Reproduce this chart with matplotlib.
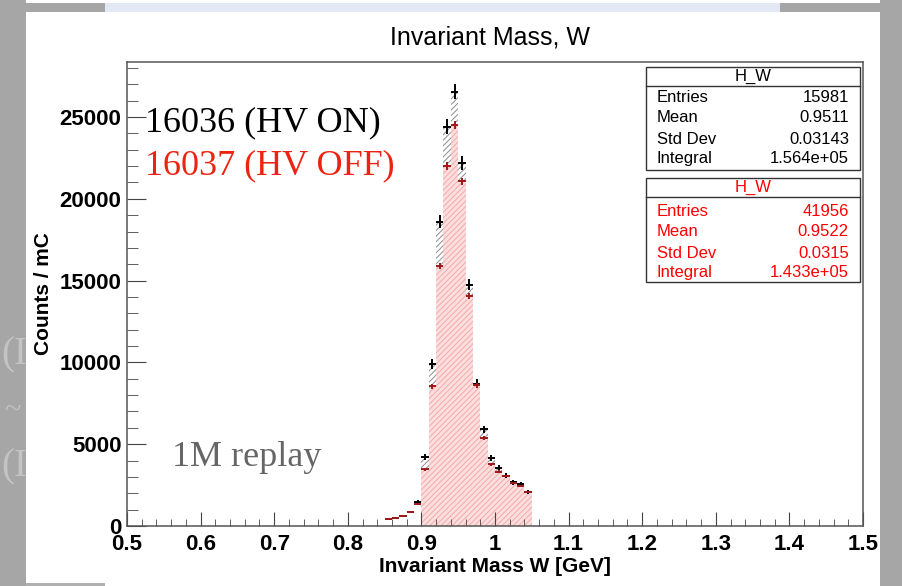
import numpy as np
import matplotlib
matplotlib.use('Agg')
import matplotlib.pyplot as plt
from matplotlib.patches import Rectangle
from matplotlib.ticker import MultipleLocator

plt.rcParams['font.family'] = ['Liberation Sans', 'DejaVu Sans']
plt.rcParams['hatch.linewidth'] = 0.7

# бины по 0.01 ГэВ от 0.85 до 1.05
bin_lo = 0.85
bin_w = 0.01
n_bins = 20
fill_from = 5  # заливка гистограмм только с 0.90

# 16036 (HV ON)
on_counts = [430, 470, 630, 850, 1480, 4200, 9900, 18600, 24400, 26550,
             22200, 14760, 8700, 5920, 4150, 3540, 3070, 2680, 2560, 2100]
on_err = [60, 60, 70, 80, 110, 180, 280, 390, 450, 470,
          420, 340, 260, 215, 180, 165, 155, 145, 140, 130]
# 16037 (HV OFF)
off_counts = [430, 470, 630, 850, 1340, 3480, 8540, 15900, 22000, 24500,
              21060, 14050, 8600, 5370, 3780, 3310, 3050, 2620, 2460, 2090]
off_err = [30, 30, 35, 40, 55, 90, 140, 190, 220, 240,
           220, 180, 140, 110, 90, 85, 80, 75, 75, 70]

stats_on = [('Entries', '15981'), ('Mean', '0.9511'), ('Std Dev', '0.03143'), ('Integral', '1.564e+05')]
stats_off = [('Entries', '41956'), ('Mean', '0.9522'), ('Std Dev', '0.0315'), ('Integral', '1.433e+05')]

xticks = [0.5, 0.6, 0.7, 0.8, 0.9, 1.0, 1.1, 1.2, 1.3, 1.4, 1.5]
xtick_labels = ['0.5', '0.6', '0.7', '0.8', '0.9', '1', '1.1', '1.2', '1.3', '1.4', '1.5']
yticks = [0, 5000, 10000, 15000, 20000, 25000]

W, H = 903, 586


def fx(px):
    return px / W


def fy(py):
    return 1 - py / H


edges = bin_lo + bin_w * np.arange(n_bins + 1)
centers = edges[:-1] + bin_w / 2

fig = plt.figure(figsize=(W / 100, H / 100), dpi=100, facecolor='#a6a6a6')

# остатки слайда слева (обрезаны по серой полосе)
for yy in (355, 467):
    fig.text(fx(1), fy(yy), '(I', fontsize=28, color='#c4c4c4',
             family='Liberation Serif', va='center', zorder=1)
fig.text(fx(4), fy(410), '~', fontsize=22, color='#c4c4c4',
         family='Liberation Serif', va='center', zorder=1)

fig.patches.append(Rectangle((fx(26), 0), fx(880) - fx(26), 1, transform=fig.transFigure,
                             facecolor='white', edgecolor='none', zorder=2))
fig.patches.append(Rectangle((fx(26), fy(12)), fx(105) - fx(26), fy(3) - fy(12),
                             transform=fig.transFigure, facecolor='#a6a6a6', edgecolor='none', zorder=2))
fig.patches.append(Rectangle((fx(105), fy(12)), fx(780) - fx(105), fy(3) - fy(12),
                             transform=fig.transFigure, facecolor='#e3e9f4', edgecolor='none', zorder=2))
fig.patches.append(Rectangle((fx(780), fy(12)), fx(880) - fx(780), fy(3) - fy(12),
                             transform=fig.transFigure, facecolor='#a6a6a6', edgecolor='none', zorder=2))
fig.patches.append(Rectangle((fx(26), 0), fx(105) - fx(26), fy(583),
                             transform=fig.transFigure, facecolor='#b0b0b0', edgecolor='none', zorder=2))

ax = fig.add_axes([fx(127), fy(526), (863 - 127) / W, (526 - 62) / H], zorder=3)

ax.stairs(on_counts[fill_from:], edges[fill_from:], fill=True, facecolor='white',
          edgecolor='#8c8c8c', hatch='//////', linewidth=0)
ax.stairs(off_counts[fill_from:], edges[fill_from:], fill=True, facecolor='#fcdede',
          edgecolor='#f4aaaa', hatch='//////', linewidth=0)
ax.axhline(0, color='#f08080', lw=0.8)

ax.errorbar(centers, on_counts, xerr=bin_w / 2, yerr=on_err, fmt='none',
            ecolor='black', elinewidth=1.4, capsize=0)
ax.errorbar(centers, off_counts, xerr=bin_w / 2, yerr=off_err, fmt='none',
            ecolor='#a01818', elinewidth=1.4, capsize=0)

ax.set_xlim(0.5, 1.5)
ax.set_ylim(0, 28360)
ax.set_xticks(xticks)
ax.set_xticklabels(xtick_labels)
ax.set_yticks(yticks)
ax.xaxis.set_minor_locator(MultipleLocator(0.02))
ax.yaxis.set_minor_locator(MultipleLocator(1000))
ax.tick_params(axis='both', which='both', direction='in', top=False, right=False,
               labelsize=16, color='#444444')
ax.tick_params(axis='x', which='major', length=10, pad=6)
ax.tick_params(axis='x', which='minor', length=5)
ax.tick_params(axis='y', which='major', length=14, pad=4)
ax.tick_params(axis='y', which='minor', length=8)
for lab in ax.get_xticklabels() + ax.get_yticklabels():
    lab.set_fontweight('bold')
for sp in ax.spines.values():
    sp.set_color('#555555')
    sp.set_linewidth(1.1)

ax.set_xlabel('Invariant Mass W [GeV]', fontsize=15, fontweight='bold')
ax.xaxis.set_label_coords(0.5, -0.067)
ax.set_ylabel('Counts / mC', fontsize=15, fontweight='bold')
ax.yaxis.set_label_coords(-0.101, 0.5)

fig.text(fx(490), fy(37), 'Invariant Mass, W', fontsize=18, ha='center', va='center', zorder=4)

# подписи ранов
fig.text(fx(145), fy(131), '16036 (HV ON)', fontsize=26, family='Liberation Serif',
         color='black', zorder=5)
fig.text(fx(145), fy(174), '16037 (HV OFF)', fontsize=26, family='Liberation Serif',
         color='#ee2211', zorder=5)
fig.text(fx(172), fy(466), '1M replay', fontsize=26, family='Liberation Serif',
         color='#666666', zorder=5)


def stat_box(top, bottom, sep, rows_y, stats, color):
    fig.patches.append(Rectangle((fx(646), fy(bottom)), fx(860) - fx(646), fy(top) - fy(bottom),
                                 transform=fig.transFigure, facecolor='white',
                                 edgecolor='#333333', lw=1.0, zorder=6))
    fig.add_artist(plt.Line2D([fx(646), fx(860)], [fy(sep), fy(sep)], color='#333333',
                              lw=1.0, zorder=7))
    fig.text(fx(753), fy((top + sep) / 2), 'H_W', fontsize=12, color=color,
             ha='center', va='center', zorder=7)
    for (name, val), yy in zip(stats, rows_y):
        fig.text(fx(657), fy(yy), name, fontsize=12, color=color, va='center', zorder=7)
        fig.text(fx(849), fy(yy), val, fontsize=12, color=color, ha='right', va='center', zorder=7)


stat_box(67, 170, 86, [97, 118, 139, 159], stats_on, 'black')
stat_box(178, 282, 197, [211, 232, 253, 273], stats_off, '#ff0000')

plt.savefig('out.png', dpi=100, facecolor=fig.get_facecolor())
